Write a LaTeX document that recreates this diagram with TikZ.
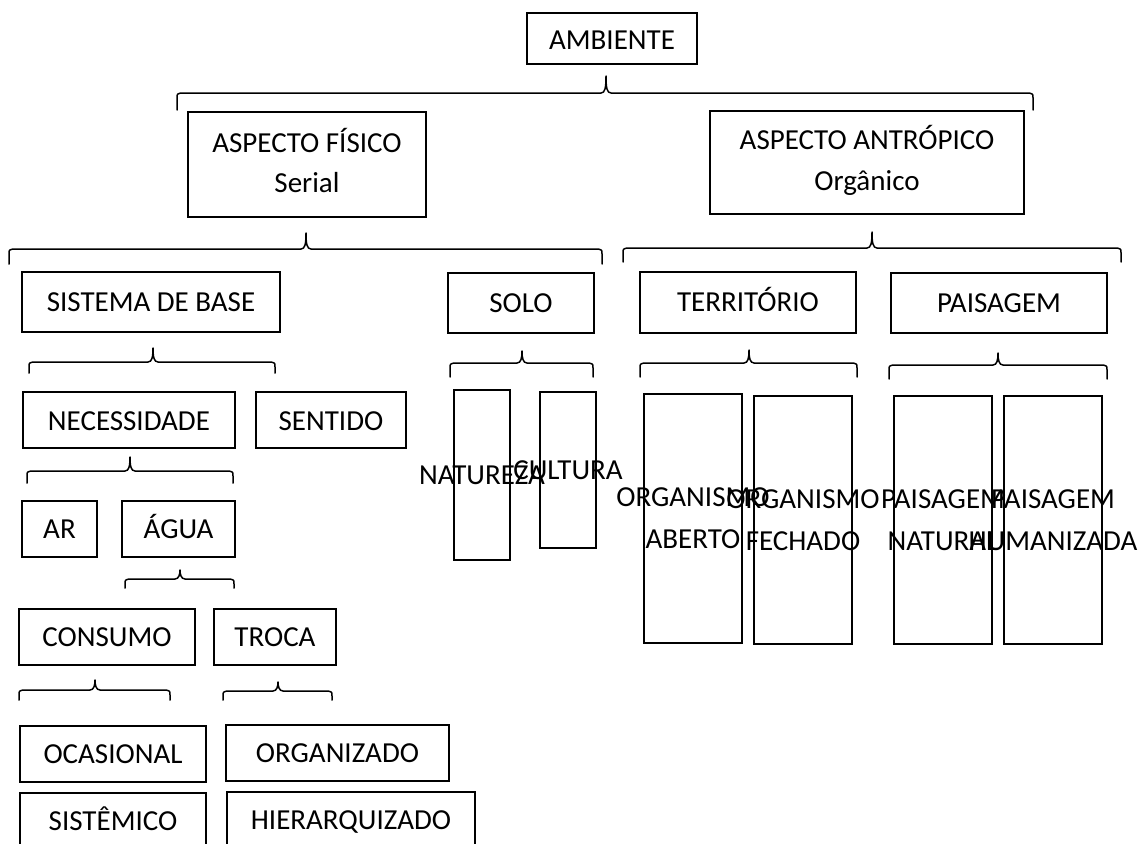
\documentclass[tikz,border=0pt]{standalone}
\usepackage{fontspec}
\setmainfont{Carlito}
\tikzset{
  boxst/.style={draw=black, line width=1.2pt, inner sep=0pt, outer sep=0pt},
  txt/.style={font=\fontsize{29}{42}\selectfont, inner sep=0pt, outer sep=0pt,
              text height=18.7pt, text depth=0pt},
  txttwo/.style={txt, font=\fontsize{29}{#1}\selectfont, text depth=#1},
  bracest/.style={draw=black, line width=1.5pt, line join=round, line cap=round},
}
% two centred lines, first baseline is the node baseline
\newcommand\twol[2]{\begin{tabular}[t]{@{}c@{}}#1\\#2\end{tabular}}
% box: name, x1, y1, x2, y2
\newcommand\wbox[5]{\node[boxst, minimum width={#4-#2}, minimum height={#5-#3}] (#1) at ({(#2+#4)/2},{(#3+#5)/2}) {};}
% brace: x1, x2, tip x, tip top y, line y, end y
\newcommand\wbrace[6]{\draw[bracest]
  (#1,#6) -- (#1,#5+5) .. controls (#1,#5+1) .. (#1+4,#5) -- (#3-5,#5)
  .. controls (#3-1,#5) and (#3,#5-5) .. (#3,#4)
  .. controls (#3,#5-5) and (#3+1,#5) .. (#3+5,#5) -- (#2-4,#5)
  .. controls (#2,#5+1) .. (#2,#5+5) -- (#2,#6);}
\begin{document}
\begin{tikzpicture}[x=1pt,y=-1pt]
\useasboundingbox (0,0) rectangle (1140,843);
\clip (0,0) rectangle (1140,843);

% boxes
\wbox{ambiente}{527}{13}{697}{64}
\wbox{fisico}{188}{112}{426}{217}
\wbox{antropico}{710}{111}{1024}{214}
\wbox{sistema}{22}{272}{280}{332}
\wbox{solo}{448}{273}{594}{333}
\wbox{territorio}{640}{272}{856}{333}
\wbox{paisagem}{891}{273}{1107}{333}
\wbox{necessidade}{23}{392}{235}{448}
\wbox{sentido}{256}{392}{406}{448}
\wbox{natureza}{454}{390}{510}{560}
\wbox{cultura}{540}{392}{596}{548}
\wbox{orgab}{644}{394}{742}{643}
\wbox{orgfe}{754}{396}{852}{644}
\wbox{paisnat}{894}{396}{992}{644}
\wbox{paishum}{1004}{396}{1102}{644}
\wbox{ar}{22}{501}{97}{557}
\wbox{agua}{122}{501}{235}{557}
\wbox{consumo}{19}{609}{195}{665}
\wbox{troca}{214}{609}{336}{665}
\wbox{ocasional}{20}{726}{206}{782}
\wbox{organizado}{226}{725}{449}{781}
\wbox{sistemico}{20}{793}{206}{849}
\wbox{hierarquizado}{227}{792}{475}{848}

% texts
\node[txt] (ambiente-t) at ([yshift=-2pt]ambiente.center) {AMBIENTE};
\node[txttwo=40.5pt] (fisico-t) at ([yshift=1.5pt]fisico.center) {\twol{ASPECTO FÍSICO}{Serial}};
\node[txttwo=41pt] (antropico-t) at ([yshift=1.5pt]antropico.center) {\twol{ASPECTO ANTRÓPICO}{Orgânico}};
\node[txt] (sistema-t) at (sistema.center) {SISTEMA DE BASE};
\node[txt] (solo-t) at (solo.center) {SOLO};
\node[txt] (territorio-t) at (territorio.center) {TERRITÓRIO};
\node[txt] (paisagem-t) at (paisagem.center) {PAISAGEM};
\node[txt] (necessidade-t) at ([yshift=-1pt]necessidade.center) {NECESSIDADE};
\node[txt] (sentido-t) at ([yshift=-1pt]sentido.center) {SENTIDO};
\node[txt] (natureza-t) at (natureza.center) {NATUREZA};
\node[txt] (cultura-t) at (cultura.center) {CULTURA};
\node[txttwo=42pt] (orgab-t) at (orgab.center) {\twol{ORGANISMO}{ABERTO}};
\node[txttwo=42pt] (orgfe-t) at (orgfe.center) {\twol{ORGANISMO}{FECHADO}};
\node[txttwo=42pt] (paisnat-t) at (paisnat.center) {\twol{PAISAGEM}{NATURAL}};
\node[txttwo=42pt] (paishum-t) at (paishum.center) {\twol{PAISAGEM}{HUMANIZADA}};
\node[txt] (ar-t) at (ar.center) {AR};
\node[txt] (agua-t) at (agua.center) {ÁGUA};
\node[txt] (consumo-t) at (consumo.center) {CONSUMO};
\node[txt] (troca-t) at (troca.center) {TROCA};
\node[txt] (ocasional-t) at (ocasional.center) {OCASIONAL};
\node[txt] (organizado-t) at (organizado.center) {ORGANIZADO};
\node[txt] (sistemico-t) at (sistemico.center) {SISTÊMICO};
\node[txt] (hierarquizado-t) at (hierarquizado.center) {HIERARQUIZADO};

% braces
\wbrace{177}{1033}{606}{76}{93}{110}
\wbrace{9}{602}{306}{233}{249}{264}
\wbrace{623}{1121}{872}{232}{248}{262}
\wbrace{29}{275}{153}{348}{362}{373}
\wbrace{450}{593}{522}{351}{363}{377}
\wbrace{640}{857}{749}{350}{363}{377}
\wbrace{889}{1107}{998}{353}{365}{379}
\wbrace{27}{233}{130}{457}{471}{483}
\wbrace{125}{234}{180}{570}{579}{588}
\wbrace{19}{170}{95}{680}{690}{700}
\wbrace{223}{332}{278}{682}{691}{700}
\end{tikzpicture}
\end{document}
